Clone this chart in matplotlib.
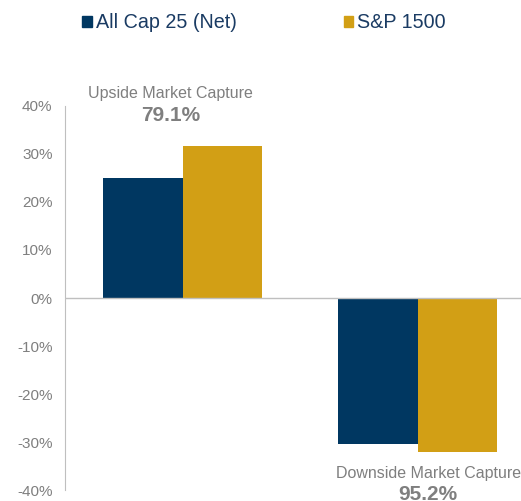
import numpy as np
import matplotlib.pyplot as plt

plt.rcParams['font.family'] = ['Liberation Sans', 'DejaVu Sans']

series = ['All Cap 25 (Net)', 'S&P 1500']
categories = ['Upside Market Capture', 'Downside Market Capture']
capture_labels = ['79.1%', '95.2%']
allcap = [25.0, -30.4]
sp1500 = [31.7, -32.1]
colors = ['#003761', '#D29F15']

fig = plt.figure(figsize=(5.21, 5.01), dpi=100)
ax = fig.add_axes([65 / 521, 1 - 490 / 501, 456 / 521, 384 / 501])

x = np.arange(len(categories))
w = 0.34
ax.bar(x - w / 2, allcap, width=w, color=colors[0], zorder=2)
ax.bar(x + w / 2, sp1500, width=w, color=colors[1], zorder=2)

ax.set_xlim(-0.5, 1.44)
ax.set_ylim(-40, 40)
ax.set_yticks(np.arange(-40, 41, 10))
ax.set_yticklabels([f'{v}%' for v in range(-40, 41, 10)])
ax.tick_params(axis='y', length=0, labelsize=11, colors='#7F7F7F', pad=9)
ax.set_xticks([])
for s in ['top', 'right', 'bottom']:
    ax.spines[s].set_visible(False)
ax.spines['left'].set_color('#BFBFBF')
ax.axhline(0, color='#BFBFBF', lw=1, zorder=3)

# annotations for capture ratios
ax.text(x[0] - 0.05, 42.7, categories[0], ha='center', va='center', fontsize=11.5,
        color='#7F7F7F', clip_on=False)
ax.text(x[0] - 0.05, 38.0, capture_labels[0], ha='center', va='center', fontsize=15,
        fontweight='bold', color='#7F7F7F', clip_on=False)
ax.text(x[1] + 0.045, -36.5, categories[1], ha='center', va='center', fontsize=11.5,
        color='#7F7F7F', clip_on=False)
ax.text(x[1] + 0.045, -41.0, capture_labels[1], ha='center', va='center', fontsize=15,
        fontweight='bold', color='#7F7F7F', clip_on=False)

# legend
handles = [plt.Rectangle((0, 0), 1, 1, color=c) for c in colors]
fig.legend(handles, series, loc='center', bbox_to_anchor=(0.507, 1 - 23 / 501),
           ncol=2, frameon=False, fontsize=14.2, handlelength=0.5, handleheight=0.5,
           handletextpad=0.2, columnspacing=5.4, labelcolor='#1A3B63')

fig.savefig('out.png', dpi=100)
